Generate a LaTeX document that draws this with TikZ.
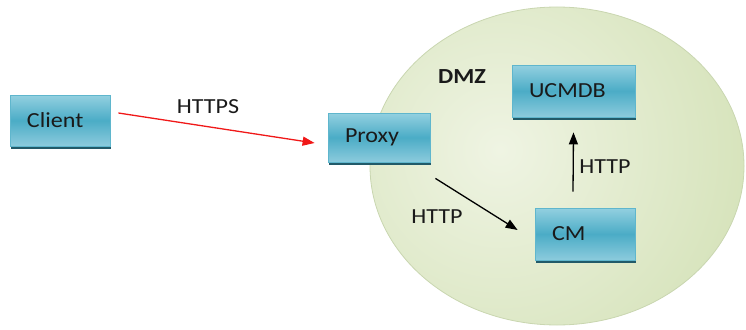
\documentclass[tikz,border=0pt]{standalone}
\usepackage{fontspec}
\setmainfont{Carlito}[FakeStretch=1.12]
\usetikzlibrary{arrows.meta,calc}
\definecolor{boxtop}{HTML}{93D0E0}
\definecolor{boxmid}{HTML}{4BACC6}
\definecolor{boxbot}{HTML}{8CCBDD}
\definecolor{boxedge}{HTML}{5FB6CD}
\definecolor{boxshadow}{HTML}{215A69}
\definecolor{dmzlight}{HTML}{EFF4E3}
\definecolor{dmzdark}{HTML}{C0D497}
\definecolor{dmzedge}{HTML}{C9D6B0}
\definecolor{txt}{HTML}{1A1A1A}
\definecolor{arrred}{HTML}{F01818}
\begin{document}
\begin{tikzpicture}[x=1pt,y=-1pt,
  every node/.style={text=txt,font=\fontsize{21.5}{24}\selectfont},
  box/.style={draw=boxedge,line width=0.8pt,top color=boxtop,bottom color=boxbot,middle color=boxmid,
    inner xsep=17pt,inner ysep=0pt,align=left,anchor=center},
  conn/.style={line width=1.3pt,-{Triangle[length=12pt,width=9pt]}},
  lbl/.style={inner sep=0pt}]
\useasboundingbox (0,0) rectangle (746,329);
\begin{scope}
  \clip (557,166) ellipse [x radius=187, y radius=159];
  \shade[inner color=dmzlight,outer color=dmzdark] (500,150) circle [radius=480];
\end{scope}
\draw[dmzedge,line width=0.8pt] (557,166) ellipse [x radius=187, y radius=159];
% shadows
\fill[boxshadow] (11,144) rectangle (111,148.5);
\fill[boxshadow] (329,160) rectangle (431,164.5);
\fill[boxshadow] (513,115) rectangle (636,119.5);
\fill[boxshadow] (536,258) rectangle (636,262.5);
% boxes
\node[box,text width=66pt,minimum height=51pt] (client) at (60,120.5) {Client};
\node[box,text width=68pt,minimum height=49pt] (proxy) at (379,137.5) {Proxy};
\node[box,text width=89pt,minimum height=52pt] (ucmdb) at (573.5,91) {UCMDB};
\node[box,text width=66pt,minimum height=52pt] (cm) at (585,234) {CM};
% connectors
\draw[conn,color=arrred] ($(client.east)+(8,-7.5)$) -- ($(proxy.west)+(-13,5.5)$);
\draw[conn,color=black] ($(proxy.south east)+(5,16)$) -- ($(cm.west)+(-17,-4)$);
\draw[conn,color=black] ($(cm.north)+(-12,-16)$) -- ($(ucmdb.south)+(0,15)$);
% labels
\node[lbl] (https) at (208,107) {HTTPS};
\node[lbl,font=\fontsize{21.5}{24}\selectfont\bfseries] (dmz) at (462,77) {DMZ};
\node[lbl] (http1) at (605,167) {HTTP};
\node[lbl] (http2) at (437,217) {HTTP};
\end{tikzpicture}
\end{document}
